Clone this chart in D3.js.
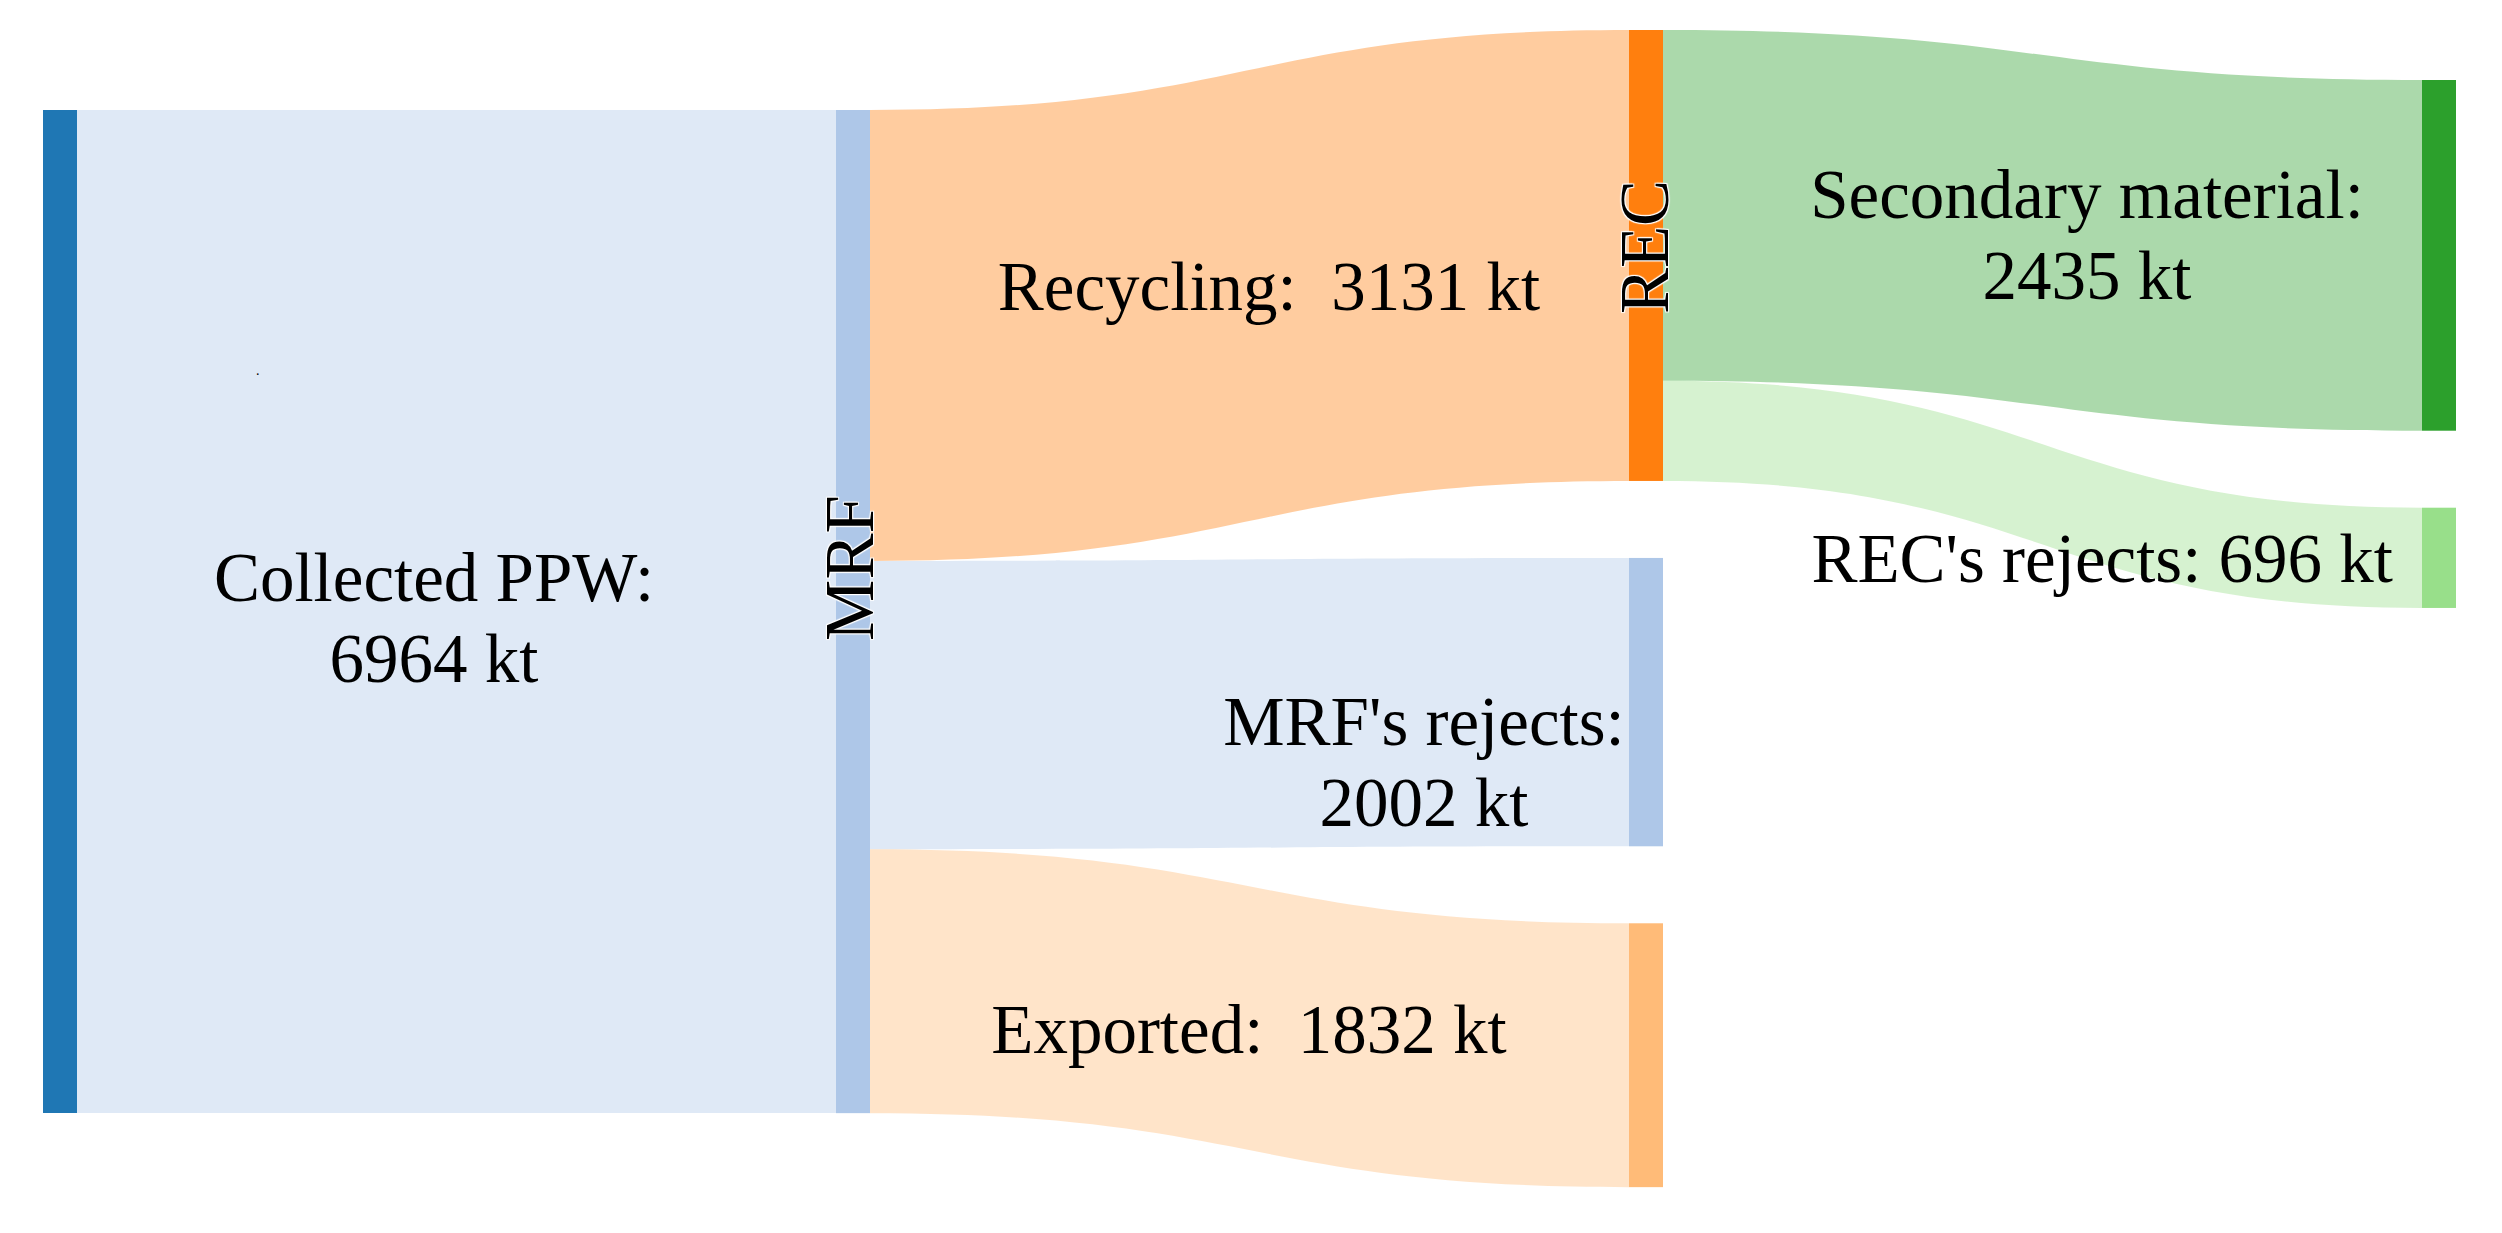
<!DOCTYPE html>
<html>
<head>
<meta charset="utf-8">
<script src="https://cdn.jsdelivr.net/npm/d3@7"></script>
<style>
  body { margin: 0; background: #fff; }
  text { font-family: "Liberation Serif", "Times New Roman", serif; fill: #000; white-space: pre; }
  .halo { text-shadow: 1px 1px 1px #fff, -1px -1px 1px #fff, 1px -1px 1px #fff, -1px 1px 1px #fff; }
</style>
</head>
<body>
<svg id="sankey"></svg>
<script>
// nodes
const nodeNames = ["Collected PPW", "MRF", "REC", "MRF's rejects", "Exported", "Secondary material", "REC's rejects"];
const nodeColors = ["#1f77b4", "#aec7e8", "#ff7f0e", "#aec7e8", "#ffbb78", "#2ca02c", "#98df8a"];

// links (kt)
const linkSource = [0, 1, 1, 1, 2, 2];
const linkTarget = [1, 2, 3, 4, 5, 6];
const linkValue = [6964, 3131, 2002, 1832, 2435, 696];

// annotation texts
const labelLines = [
    ["Collected PPW:", "6964 kt"],
    ["Recycling:  3131 kt"],
    ["Secondary material:", "2435 kt"],
    ["REC's rejects: 696 kt"],
    ["MRF's rejects:", "2002 kt"],
    ["Exported:  1832 kt"]
];

const createSankey = function () {
    const width = 2502;
    const height = 1233;
    const NODE_WIDTH = 34;
    const NODE_PAD = 77;
    const LINK_OPACITY = 0.4;
    const FONT_SIZE = 69;
    // top of each column (like plotly's node.y arrangement)
    const colTop = [110, 110, 30, 80];

    const svg = d3.select("#sankey").attr("width", width).attr("height", height);

    const x = d3.scaleLinear().domain([0, 3]).range([43, 2422]);
    const y = d3.scaleLinear().domain([0, 6964]).range([0, 1003]);

    const nodes = nodeNames.map((name, i) => ({name, color: nodeColors[i], depth: 0, inLinks: [], outLinks: []}));
    const links = linkValue.map((v, i) => ({source: nodes[linkSource[i]], target: nodes[linkTarget[i]], value: v}));
    links.forEach(l => { l.source.outLinks.push(l); l.target.inLinks.push(l); });

    // depth by propagation
    for (let k = 0; k < nodes.length; k++) {
        links.forEach(l => { l.target.depth = Math.max(l.target.depth, l.source.depth + 1); });
    }
    nodes.forEach(n => {
        n.value = Math.max(d3.sum(n.inLinks, l => l.value), d3.sum(n.outLinks, l => l.value));
    });

    // stack nodes per column
    d3.groups(nodes, n => n.depth).forEach(([depth, col]) => {
        let top = colTop[depth];
        col.forEach(n => {
            n.x0 = x(depth);
            n.x1 = n.x0 + NODE_WIDTH;
            n.y0 = top;
            n.y1 = top + y(n.value);
            top = n.y1 + NODE_PAD;
        });
    });

    // stack links on nodes
    nodes.forEach(n => {
        let s = n.y0;
        n.outLinks.forEach(l => { l.sy0 = s; s += y(l.value); l.sy1 = s; });
        let t = n.y0;
        n.inLinks.forEach(l => { l.ty0 = t; t += y(l.value); l.ty1 = t; });
    });

    function linkPath(l) {
        const x0 = l.source.x1, x1 = l.target.x0, xm = (x0 + x1) / 2;
        const p = d3.path();
        p.moveTo(x0, l.sy0);
        p.bezierCurveTo(xm, l.sy0, xm, l.ty0, x1, l.ty0);
        p.lineTo(x1, l.ty1);
        p.bezierCurveTo(xm, l.ty1, xm, l.sy1, x0, l.sy1);
        p.closePath();
        return p.toString();
    }

    svg.append("g")
        .attr("class", "links")
        .selectAll("path")
        .data(links)
        .enter().append("path")
        .attr("d", linkPath)
        .attr("fill", d => d.target.color)
        .attr("fill-opacity", LINK_OPACITY);

    svg.append("g")
        .attr("class", "nodes")
        .selectAll("rect")
        .data(nodes)
        .enter().append("rect")
        .attr("x", d => d.x0)
        .attr("y", d => d.y0)
        .attr("width", d => d.x1 - d.x0)
        .attr("height", d => d.y1 - d.y0)
        .attr("fill", d => d.color);

    // vertical node labels
    const vlabels = [
        {text: "MRF", cx: 873, cy: 568},
        {text: "REC", cx: 1668, cy: 247}
    ];
    svg.append("g")
        .selectAll("text")
        .data(vlabels)
        .enter().append("text")
        .attr("class", "halo")
        .attr("transform", d => `translate(${d.cx},${d.cy}) rotate(-90)`)
        .attr("text-anchor", "middle")
        .attr("font-size", FONT_SIZE)
        .text(d => d.text);

    // flow annotations
    const anchors = [
        {x: 434, y: 601, anchor: "middle"},
        {x: 1269, y: 310, anchor: "middle"},
        {x: 2087, y: 218, anchor: "middle"},
        {x: 2393, y: 582, anchor: "end"},
        {x: 1424, y: 745, anchor: "middle"},
        {x: 1249, y: 1053, anchor: "middle"}
    ];
    const LINE_H = 81;
    const ann = svg.append("g")
        .selectAll("text")
        .data(labelLines)
        .enter().append("text")
        .attr("text-anchor", (d, i) => anchors[i].anchor)
        .attr("font-size", FONT_SIZE);
    ann.each(function (lines, i) {
        d3.select(this).selectAll("tspan")
            .data(lines)
            .enter().append("tspan")
            .attr("x", anchors[i].x)
            .attr("y", (d, j) => anchors[i].y + j * LINE_H)
            .text(d => d);
    });

    // stray dot present in the original figure
    svg.append("text").attr("x", 256).attr("y", 375).attr("font-size", 14).text(".");
};

createSankey();
</script>
</body>
</html>
